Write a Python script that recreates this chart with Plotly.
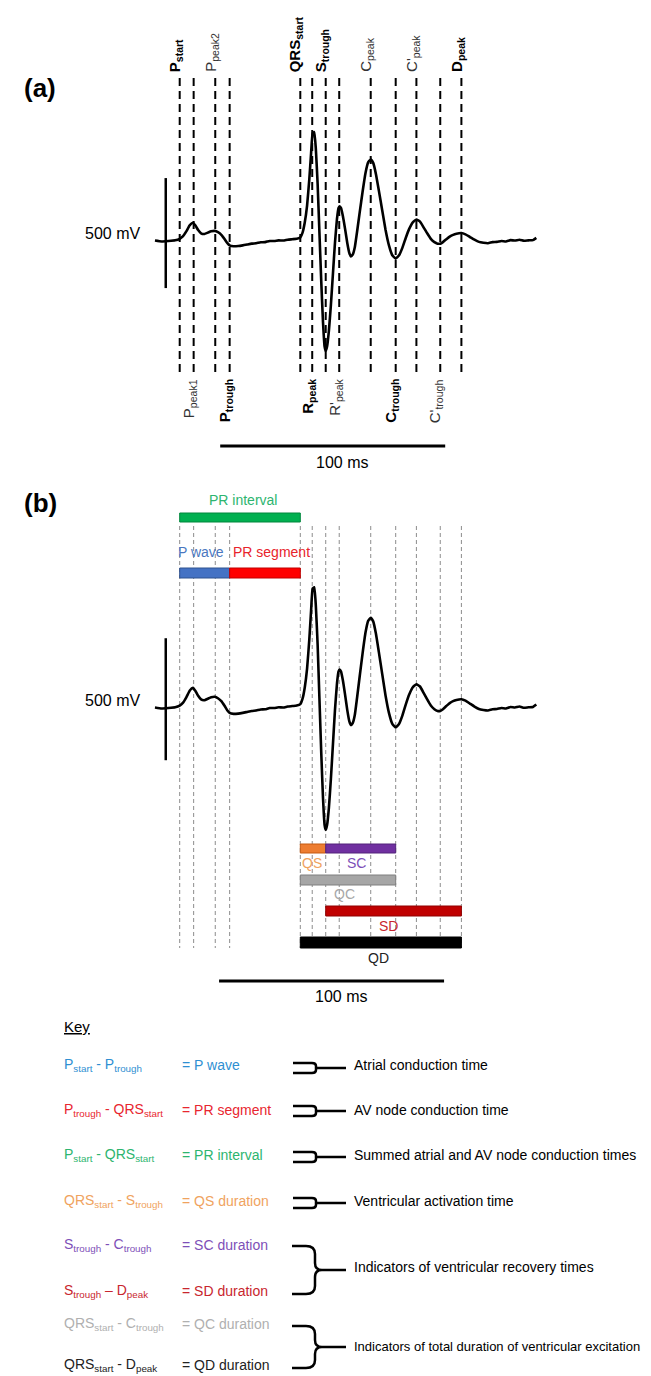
import plotly.graph_objects as go

# ---------------- data ----------------
# ECG trace: time (ms, relative to P_start) and voltage (mV)
ecg_t = [-11, -8, -5, -2, 0, 1.5, 3, 4.5, 5.9, 7, 8.2, 9.5, 11, 12.5, 14, 15.6, 17, 18.5, 20, 21.2,
         22.2, 24, 26, 28, 30, 32, 34, 36, 38, 40, 42, 44, 46, 48, 50, 52, 53.6, 54.6, 55.6, 56.6,
         57.6, 58.4, 59.1, 59.8, 60.5, 61.3, 62.1, 62.9, 63.7, 64.4, 64.9, 65.5, 66.3, 67.2, 68.1,
         69.0, 69.9, 70.6, 71.1, 71.7, 72.5, 73.5, 74.5, 75.4, 76.1, 76.9, 77.8, 78.8, 80, 81.3,
         82.6, 83.8, 84.9, 86, 87.2, 88.5, 90, 91.5, 93, 94.5, 96, 97.5, 99, 100.5, 102, 103.6,
         105.2, 106.8, 108.4, 110, 111.6, 113.2, 114.6, 115.8, 117, 118.5, 120, 121.5, 123, 125.2,
         127, 129, 131, 133, 135, 137, 139, 141, 143, 145, 147, 149, 151, 153, 155, 157, 158.5]
ecg_mv = [2, -2, 0, 3, 10, 22, 45, 72, 83, 70, 50, 35, 32, 38, 44, 46, 40, 28, 8, -10,
          -20, -24, -23, -20, -16, -12, -10, -6, -5, 0, 0, 3, 2, 6, 8, 10, 16, 38, 85, 160,
          280, 400, 490, 495, 420, 260, 40, -180, -370, -480, -500, -480, -410, -290, -150,
          -10, 100, 150, 158, 150, 115, 55, -10, -55, -70, -62, -30, 40, 130, 225,
          310, 358, 370, 355, 305, 230, 140, 50, -20, -65, -80, -65, -30, 15, 55, 85,
          97, 88, 62, 35, 10, -5, -12, -12, -5, 8, 20, 28, 33, 36,
          30, 18, 6, -4, -8, -10, -5, -4, 0, -2, 4, 2, 6, 1, 3, 4, 14]

# Fiducial markers (ms)
marker_names = ["P_start", "P_peak1", "P_peak2", "P_trough", "QRS_start", "R_peak", "S_trough",
                "R'_peak", "C_peak", "C_trough", "C'_peak", "C'_trough", "D_peak"]
marker_times = [0, 6.2, 15.8, 22.2, 53.6, 58.9, 64.9, 70.9, 84.9, 96.0, 105.2, 115.8, 125.2]
marker_labels = ["P<sub>start</sub>", "P<sub>peak1</sub>", "P<sub>peak2</sub>", "P<sub>trough</sub>",
                 "QRS<sub>start</sub>", "R<sub>peak</sub>", "S<sub>trough</sub>", "R'<sub>peak</sub>",
                 "C<sub>peak</sub>", "C<sub>trough</sub>", "C'<sub>peak</sub>", "C'<sub>trough</sub>",
                 "D<sub>peak</sub>"]
marker_side = ["top", "bottom", "top", "bottom", "top", "bottom", "top", "bottom",
               "top", "bottom", "top", "bottom", "top"]
marker_bold = [True, False, False, True, True, True, True, False, False, True, False, False, True]

# Intervals shown in panel (b)
interval_names = ["PR interval", "P wave", "PR segment", "QS", "SC", "QC", "SD", "QD"]
interval_start = ["P_start", "P_start", "P_trough", "QRS_start", "S_trough", "QRS_start", "S_trough", "QRS_start"]
interval_end = ["QRS_start", "P_trough", "QRS_start", "S_trough", "C_trough", "C_trough", "D_peak", "D_peak"]

scale_ms = 100        # horizontal scale bar
scale_mv = 500        # vertical scale bar

# Key
key_left = ["P<sub>start</sub> - P<sub>trough</sub>", "P<sub>trough</sub> - QRS<sub>start</sub>",
            "P<sub>start</sub> - QRS<sub>start</sub>", "QRS<sub>start</sub> - S<sub>trough</sub>",
            "S<sub>trough</sub> - C<sub>trough</sub>", "S<sub>trough</sub> \u2013 D<sub>peak</sub>",
            "QRS<sub>start</sub> - C<sub>trough</sub>", "QRS<sub>start</sub> - D<sub>peak</sub>"]
key_mid = ["= P wave", "= PR segment", "= PR interval", "= QS duration", "= SC duration",
           "= SD duration", "= QC duration", "= QD duration"]
key_right = ["Atrial conduction time", "AV node conduction time",
             "Summed atrial and AV node conduction times", "Ventricular activation time",
             "Indicators of ventricular recovery times",
             "Indicators of total duration of ventricular excitation"]

# ---------------- styling / layout helpers ----------------
W, H = 651, 1376
ARIAL = "Liberation Sans, Arial, sans-serif"

T0_PX, PX_PER_MS = 171.7, 2.25
A_BASE_PX, A_PX_PER_MV = 233.0, 110 / 500
B_BASE_PX, B_PX_PER_MV = 700.0, 122 / 500
A_TOP, A_BOT = 0, 470
B_TOP, B_BOT = 470, 1000


def fx(px):
    return px / W


def fy(py):
    return 1 - py / H


def a_mv(py):
    return (A_BASE_PX - py) / A_PX_PER_MV


def b_mv(py):
    return (B_BASE_PX - py) / B_PX_PER_MV


tmap = dict(zip(marker_names, marker_times))

bar_colors = {"PR interval": ("#00B050", "#00873C"), "P wave": ("#4472C4", "#2F528F"),
              "PR segment": ("#FF0000", "#C00000"), "QS": ("#ED7D31", "#C55A11"),
              "SC": ("#7030A0", "#52237A"), "QC": ("#A6A6A6", "#7F7F7F"),
              "SD": ("#C00000", "#900000"), "QD": ("#000000", "#000000")}
bar_px = {"PR interval": (505, 514), "P wave": (560, 570), "PR segment": (560, 570),
          "QS": (836, 845), "SC": (836, 845), "QC": (867, 877), "SD": (898, 908), "QD": (929, 940)}
label_pos = {"PR interval": (235, 492, "#2DB56F"), "P wave": (193, 544, "#4A77C0"),
             "PR segment": (263, 544, "#E8232B"), "QS": (304, 855, "#F0A35E"),
             "SC": (348, 855, "#7E4FB8"), "QC": (336, 886, "#A8A8A8"),
             "SD": (380, 918, "#C8262E"), "QD": (370, 950, "#222222")}

key_colors = ["#2F8FD2", "#E8262F", "#2DB56F", "#F0A35E", "#7E4FB8", "#C8262E", "#B0B0B0", "#222222"]
key_rows = [1057, 1102, 1147, 1193, 1237, 1283, 1316, 1357]

fig = go.Figure()

# ---------------- panel (a) ----------------
xa, ya = [], []
for t in marker_times:
    xa += [t, t, None]
    ya += [a_mv(70), a_mv(367), None]
fig.add_trace(go.Scatter(x=xa, y=ya, mode="lines", xaxis="x", yaxis="y",
                         line=dict(color="black", width=2, dash="8px,5px"), hoverinfo="skip"))
fig.add_trace(go.Scatter(x=ecg_t, y=ecg_mv, mode="lines", xaxis="x", yaxis="y",
                         line=dict(color="black", width=2.6, shape="spline", smoothing=0.4)))
fig.add_trace(go.Scatter(x=[-6.2, -6.2], y=[-214, -214 + scale_mv], mode="lines", xaxis="x", yaxis="y",
                         line=dict(color="black", width=2.5)))
fig.add_trace(go.Scatter(x=[18, 18 + scale_ms], y=[a_mv(438)] * 2, mode="lines", xaxis="x", yaxis="y",
                         line=dict(color="black", width=3)))

# ---------------- panel (b) ----------------
xb, yb = [], []
for t in marker_times:
    xb += [t, t, None]
    yb += [b_mv(518), b_mv(940), None]
fig.add_trace(go.Scatter(x=xb, y=yb, mode="lines", xaxis="x2", yaxis="y2",
                         line=dict(color="#8C8C8C", width=1, dash="4px,3px"), hoverinfo="skip"))
fig.add_trace(go.Scatter(x=ecg_t, y=ecg_mv, mode="lines", xaxis="x2", yaxis="y2",
                         line=dict(color="black", width=2.6, shape="spline", smoothing=0.4)))
fig.add_trace(go.Scatter(x=[-6.2, -6.2], y=[-214, -214 + scale_mv], mode="lines", xaxis="x2", yaxis="y2",
                         line=dict(color="black", width=2.5)))
fig.add_trace(go.Scatter(x=[17.5, 17.5 + scale_ms], y=[b_mv(973)] * 2, mode="lines", xaxis="x2", yaxis="y2",
                         line=dict(color="black", width=3)))

shapes = []
annotations = []
for name, s, e in zip(interval_names, interval_start, interval_end):
    fill, edge = bar_colors[name]
    p0, p1 = bar_px[name]
    shapes.append(dict(type="rect", xref="x2", yref="y2", x0=tmap[s], x1=tmap[e],
                       y0=b_mv(p1), y1=b_mv(p0), fillcolor=fill, line=dict(color=edge, width=1)))
    lx, ly, lc = label_pos[name]
    annotations.append(dict(text=name, x=fx(lx), y=fy(ly), xref="paper", yref="paper", showarrow=False,
                            font=dict(family=ARIAL, size=14, color=lc), xanchor="center", yanchor="middle"))

# marker labels (panel a)
for t, lab, side, bold in zip(marker_times, marker_labels, marker_side, marker_bold):
    txt = "<b>" + lab + "</b>" if bold else lab
    col = "black" if bold else "#333333"
    if side == "top":
        annotations.append(dict(text=txt, x=t, xref="x", y=fy(66), yref="paper", showarrow=False,
                                textangle=-90, xanchor="center", yanchor="bottom", xshift=-4,
                                font=dict(family=ARIAL, size=15, color=col)))
    else:
        annotations.append(dict(text=txt, x=t, xref="x", y=fy(369), yref="paper", showarrow=False,
                                textangle=-90, xanchor="center", yanchor="top", xshift=-4,
                                font=dict(family=ARIAL, size=15, color=col)))

# panel texts
for txt, x, y, size, bold, anc in [("(a)", 32, 80, 26, True, "center"), ("(b)", 32, 495, 26, True, "center"),
                                   ("500 mV", 134, 225, 16, False, "right"), ("500 mV", 134, 692, 16, False, "right"),
                                   ("100 ms", 334, 454, 16, False, "center"), ("100 ms", 333, 988, 16, False, "center")]:
    annotations.append(dict(text=("<b>%s</b>" % txt) if bold else txt, x=fx(x), y=fy(y), xref="paper",
                            yref="paper", showarrow=False, xanchor=anc, yanchor="middle",
                            font=dict(family=ARIAL, size=size, color="black")))

# ---------------- key ----------------
annotations.append(dict(text="<u>Key</u>", x=fx(54), y=fy(1018), xref="paper", yref="paper", showarrow=False,
                        xanchor="left", yanchor="middle", font=dict(family=ARIAL, size=15, color="black")))
for left, mid, col, ry in zip(key_left, key_mid, key_colors, key_rows):
    annotations.append(dict(text=left, x=fx(54), y=fy(ry), xref="paper", yref="paper", showarrow=False,
                            xanchor="left", yanchor="middle", font=dict(family=ARIAL, size=14, color=col)))
    annotations.append(dict(text=mid, x=fx(172), y=fy(ry), xref="paper", yref="paper", showarrow=False,
                            xanchor="left", yanchor="middle", font=dict(family=ARIAL, size=14, color=col)))

right_rows = [1057, 1102, 1147, 1193, 1259, 1338]
right_sizes = [14, 14, 14, 14, 14, 13]
for txt, ry, sz in zip(key_right, right_rows, right_sizes):
    annotations.append(dict(text=txt, x=fx(344), y=fy(ry), xref="paper", yref="paper", showarrow=False,
                            xanchor="left", yanchor="middle", font=dict(family=ARIAL, size=sz, color="black")))


def ppath(pts):
    out = []
    for cmd, coords in pts:
        s = cmd
        for i in range(0, len(coords), 2):
            s += " %.5f,%.5f" % (fx(coords[i]), fy(coords[i + 1]))
        out.append(s)
    return " ".join(out)


# small square brackets
for cy in [1060, 1103, 1149, 1195]:
    top, bot = cy - 5, cy + 5
    path = ppath([("M", [285, top]), ("L", [304, top]), ("Q", [308, top, 308, top + 3]),
                  ("L", [308, bot - 3]), ("Q", [308, bot, 304, bot]), ("L", [285, bot]),
                  ("M", [308, cy]), ("L", [338, cy])])
    shapes.append(dict(type="path", path=path, xref="paper", yref="paper", line=dict(color="black", width=2.5)))

# curly braces
for top, bot in [(1238, 1286), (1318, 1360)]:
    mid = (top + bot) / 2
    path = ppath([("M", [284, top]), ("L", [298, top]), ("Q", [307, top, 307, top + 8]),
                  ("L", [307, mid - 7]), ("Q", [307, mid, 314, mid]),
                  ("Q", [307, mid, 307, mid + 7]), ("L", [307, bot - 8]),
                  ("Q", [307, bot, 298, bot]), ("L", [284, bot]),
                  ("M", [314, mid]), ("L", [338, mid])])
    shapes.append(dict(type="path", path=path, xref="paper", yref="paper", line=dict(color="black", width=2.5)))

xrange_ms = [(0 - T0_PX) / PX_PER_MS, (W - T0_PX) / PX_PER_MS]
hidden = dict(visible=False, showgrid=False, zeroline=False, fixedrange=True)
fig.update_layout(
    width=W, height=H, margin=dict(l=0, r=0, t=0, b=0), autosize=False,
    paper_bgcolor="white", plot_bgcolor="rgba(0,0,0,0)", showlegend=False,
    xaxis=dict(domain=[0, 1], range=xrange_ms, anchor="y", **hidden),
    yaxis=dict(domain=[fy(A_BOT), fy(A_TOP)], range=[a_mv(A_BOT), a_mv(A_TOP)], anchor="x", **hidden),
    xaxis2=dict(domain=[0, 1], range=xrange_ms, anchor="y2", **hidden),
    yaxis2=dict(domain=[fy(B_BOT), fy(B_TOP)], range=[b_mv(B_BOT), b_mv(B_TOP)], anchor="x2", **hidden),
    shapes=shapes, annotations=annotations,
)
fig.write_html("out.html")
